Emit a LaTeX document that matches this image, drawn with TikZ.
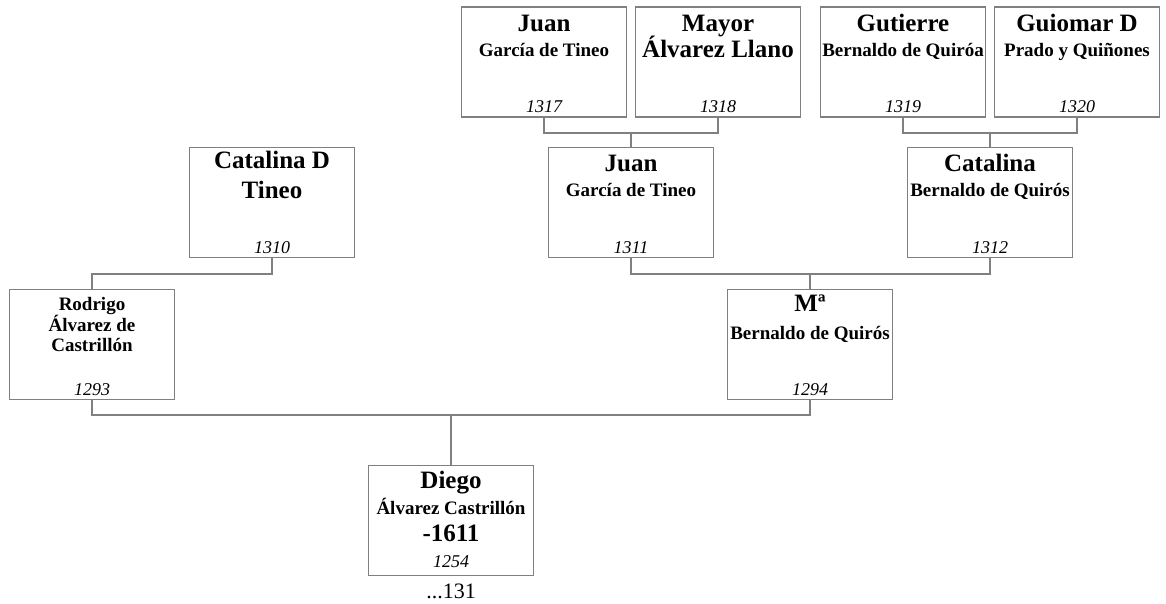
\documentclass[tikz,border=0pt]{standalone}
\usepackage{fontspec}
\setmainfont{Liberation Serif}
\definecolor{linegray}{RGB}{128,128,128}

\begin{document}
\begin{tikzpicture}[
  x=1pt, y=1pt,
  box/.style={rectangle, draw=linegray, line width=1.2pt, minimum width=165pt, minimum height=110pt, inner sep=0pt},
  big/.style={anchor=base, inner sep=0pt, font=\fontsize{25}{28}\selectfont\bfseries},
  sub/.style={anchor=base, inner sep=0pt, font=\fontsize{19}{21}\selectfont\bfseries},
  yr/.style={anchor=base, inner sep=0pt, font=\fontsize{18}{20}\selectfont\itshape},
  link/.style={draw=linegray, line width=1.2pt}
]
\useasboundingbox (0,0) rectangle (1166,-604);

% bisabuelos
\node[box] (p1317) at (544,-62) {};
\node[big] (p1317n) at ([yshift=-25pt]p1317.north) {Juan};
\node[sub] (p1317s) at ([yshift=-50pt]p1317.north) {García de Tineo};
\node[yr] (p1317y) at ([yshift=5pt]p1317.south) {1317};

\node[box] (p1318) at (718,-62) {};
\node[big] (p1318n) at ([yshift=-25pt]p1318.north) {Mayor};
\node[big] (p1318s) at ([yshift=-51pt]p1318.north) {Álvarez Llano};
\node[yr] (p1318y) at ([yshift=5pt]p1318.south) {1318};

\node[box] (p1319) at (903,-62) {};
\node[big] (p1319n) at ([yshift=-25pt]p1319.north) {Gutierre};
\node[sub] (p1319s) at ([yshift=-50pt]p1319.north) {Bernaldo de Quiróa};
\node[yr] (p1319y) at ([yshift=5pt]p1319.south) {1319};

\node[box] (p1320) at (1077,-62) {};
\node[big] (p1320n) at ([yshift=-25pt]p1320.north) {Guiomar D};
\node[sub] (p1320s) at ([yshift=-50pt]p1320.north) {Prado y Quiñones};
\node[yr] (p1320y) at ([yshift=5pt]p1320.south) {1320};

% abuelos
\node[box] (p1310) at (272,-202.5) {};
\node[big] (p1310n) at ([yshift=-22pt]p1310.north) {Catalina D};
\node[big] (p1310s) at ([yshift=-52pt]p1310.north) {Tineo};
\node[yr] (p1310y) at ([yshift=5pt]p1310.south) {1310};

\node[box] (p1311) at (631,-202.5) {};
\node[big] (p1311n) at ([yshift=-25pt]p1311.north) {Juan};
\node[sub] (p1311s) at ([yshift=-50pt]p1311.north) {García de Tineo};
\node[yr] (p1311y) at ([yshift=5pt]p1311.south) {1311};

\node[box] (p1312) at (990,-202.5) {};
\node[big] (p1312n) at ([yshift=-25pt]p1312.north) {Catalina};
\node[sub] (p1312s) at ([yshift=-50pt]p1312.north) {Bernaldo de Quirós};
\node[yr] (p1312y) at ([yshift=5pt]p1312.south) {1312};

% padres
\node[box] (p1293) at (92,-344.5) {};
\node[sub] (p1293a) at ([yshift=-22pt]p1293.north) {Rodrigo};
\node[sub] (p1293b) at ([yshift=-43pt]p1293.north) {Álvarez de};
\node[sub] (p1293c) at ([yshift=-63pt]p1293.north) {Castrillón};
\node[yr] (p1293y) at ([yshift=5pt]p1293.south) {1293};

\node[box] (p1294) at (810,-344.5) {};
\node[big] (p1294n) at ([yshift=-23pt]p1294.north) {Mª};
\node[sub] (p1294s) at ([yshift=-51pt]p1294.north) {Bernaldo de Quirós};
\node[yr] (p1294y) at ([yshift=5pt]p1294.south) {1294};

% hijo
\node[box] (p1254) at (451,-520.5) {};
\node[big] (p1254n) at ([yshift=-24pt]p1254.north) {Diego};
\node[sub] (p1254s) at ([yshift=-50pt]p1254.north) {Álvarez Castrillón};
\node[big] (p1254d) at ([yshift=-77pt]p1254.north) {-1611};
\node[yr] (p1254y) at ([yshift=8.5pt]p1254.south) {1254};
\node[anchor=base, inner sep=0pt, font=\fontsize{22}{24}\selectfont] (sigue) at ([yshift=-22pt]p1254.south) {...131};

% uniones
\coordinate (j1) at (631,-133);
\coordinate (j2) at (990,-133);
\coordinate (j3) at (810,-274);
\coordinate (j4) at (92,-274);
\coordinate (j5) at (451,-415);

\draw[link] (p1317.south) |- (j1) -| (p1318.south);
\draw[link] (j1) -- (p1311.north);
\draw[link] (p1319.south) |- (j2) -| (p1320.south);
\draw[link] (j2) -- (p1312.north);
\draw[link] (p1311.south) |- (j3) -| (p1312.south);
\draw[link] (j3) -- (p1294.north);
\draw[link] (p1310.south) |- (j4) -- (p1293.north);
\draw[link] (p1293.south) |- (j5) -| (p1294.south);
\draw[link] (j5) -- (p1254.north);
\end{tikzpicture}
\end{document}
